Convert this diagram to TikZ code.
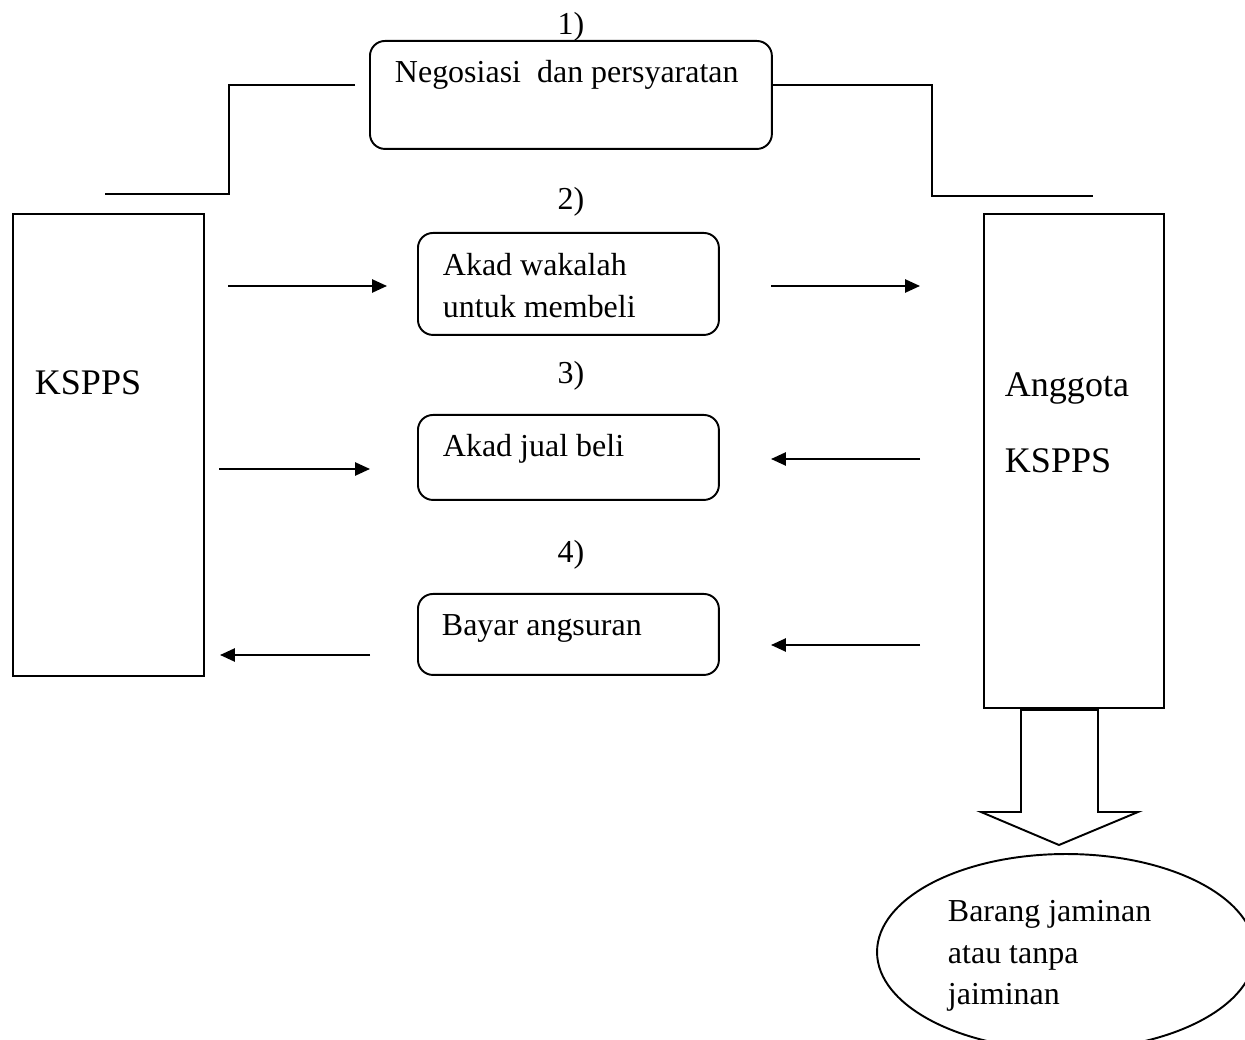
\documentclass[tikz,border=0pt]{standalone}
\usepackage{fontspec}
\setmainfont{Liberation Serif}
\usetikzlibrary{shapes.geometric,arrows.meta}
\begin{document}
\begin{tikzpicture}[x=0.02cm,y=-0.02cm,line width=1.1pt,
  rbox/.style={draw,rounded corners=0.3cm,inner sep=0,anchor=north west},
  sbox/.style={draw,inner sep=0,anchor=north west},
  txt/.style={inner sep=0,anchor=base west,font=\fontsize{18.2}{21}\selectfont},
  num/.style={inner sep=0,anchor=base,font=\fontsize{18.2}{21}\selectfont},
  big/.style={inner sep=0,anchor=base west,font=\fontsize{20.5}{24}\selectfont},
  arr/.style={-{Triangle[length=8.5pt,width=7.5pt]}}]
\useasboundingbox (0,0) rectangle (1245,1040);
\clip (0,0) rectangle (1245,1040);
% boxes
\node[rbox,minimum width=8.04cm,minimum height=2.16cm] (b1) at (369,40) {};
\node[rbox,minimum width=6.02cm,minimum height=2.04cm] (b2) at (417,232) {};
\node[rbox,minimum width=6.02cm,minimum height=1.70cm] (b3) at (417,414) {};
\node[rbox,minimum width=6.02cm,minimum height=1.62cm] (b4) at (417,593) {};
\node[sbox,minimum width=3.82cm,minimum height=9.24cm] (ks) at (12,213) {};
\node[sbox,minimum width=3.60cm,minimum height=9.88cm] (ang) at (983,213) {};
\node[draw,ellipse,inner sep=0,minimum width=7.56cm,minimum height=3.92cm] (ell) at (1066,952) {};
% texts
\node[num] (n1) at (571,35) {1)};
\node[num] (n2) at (571,210) {2)};
\node[num] (n3) at (571,384) {3)};
\node[num] (n4) at (571,562) {4)};
\node[txt] (t1) at (394,83) {Negosiasi\ \ dan persyaratan};
\node[txt] (t2a) at (442,276) {Akad wakalah};
\node[txt] (t2b) at (442,318) {untuk membeli};
\node[txt] (t3) at (442,457) {Akad jual beli};
\node[txt] (t4) at (441,636) {Bayar angsuran};
\node[big] (tk) at (34,395) {KSPPS};
\node[big] (ta1) at (1004,397) {Anggota};
\node[big] (ta2) at (1004,473) {KSPPS};
\node[txt] (te1) at (947,921) {Barang jaminan};
\node[txt] (te2) at (947,963) {atau tanpa};
\node[txt] (te3) at (947,1004) {jaiminan};
% step lines at the top
\coordinate (l1) at (355,85);
\coordinate (l2) at (105,194);
\coordinate (r2) at (1093,196);
\draw (l1) -- (229,85) -- (229,194) -- (l2);
\draw (b1.east |- 0,85) -- (932,85) -- (932,196) -- (r2);
% arrows
\coordinate (a1s) at (228,286); \coordinate (a1e) at (387,286);
\coordinate (a2s) at (771,286); \coordinate (a2e) at (920,286);
\coordinate (a3s) at (219,469); \coordinate (a3e) at (370,469);
\coordinate (a4s) at (920,459); \coordinate (a4e) at (771,459);
\coordinate (a5s) at (370,655); \coordinate (a5e) at (220,655);
\coordinate (a6s) at (920,645); \coordinate (a6e) at (771,645);
\draw[arr] (a1s) -- (a1e);
\draw[arr] (a2s) -- (a2e);
\draw[arr] (a3s) -- (a3e);
\draw[arr] (a4s) -- (a4e);
\draw[arr] (a5s) -- (a5e);
\draw[arr] (a6s) -- (a6e);
% block arrow
\draw[line join=miter] (1021,710) -- (1098,710) -- (1098,812) -- (1138,812) -- (1059,845) -- (981,812) -- (1021,812) -- cycle;
\end{tikzpicture}
\end{document}
